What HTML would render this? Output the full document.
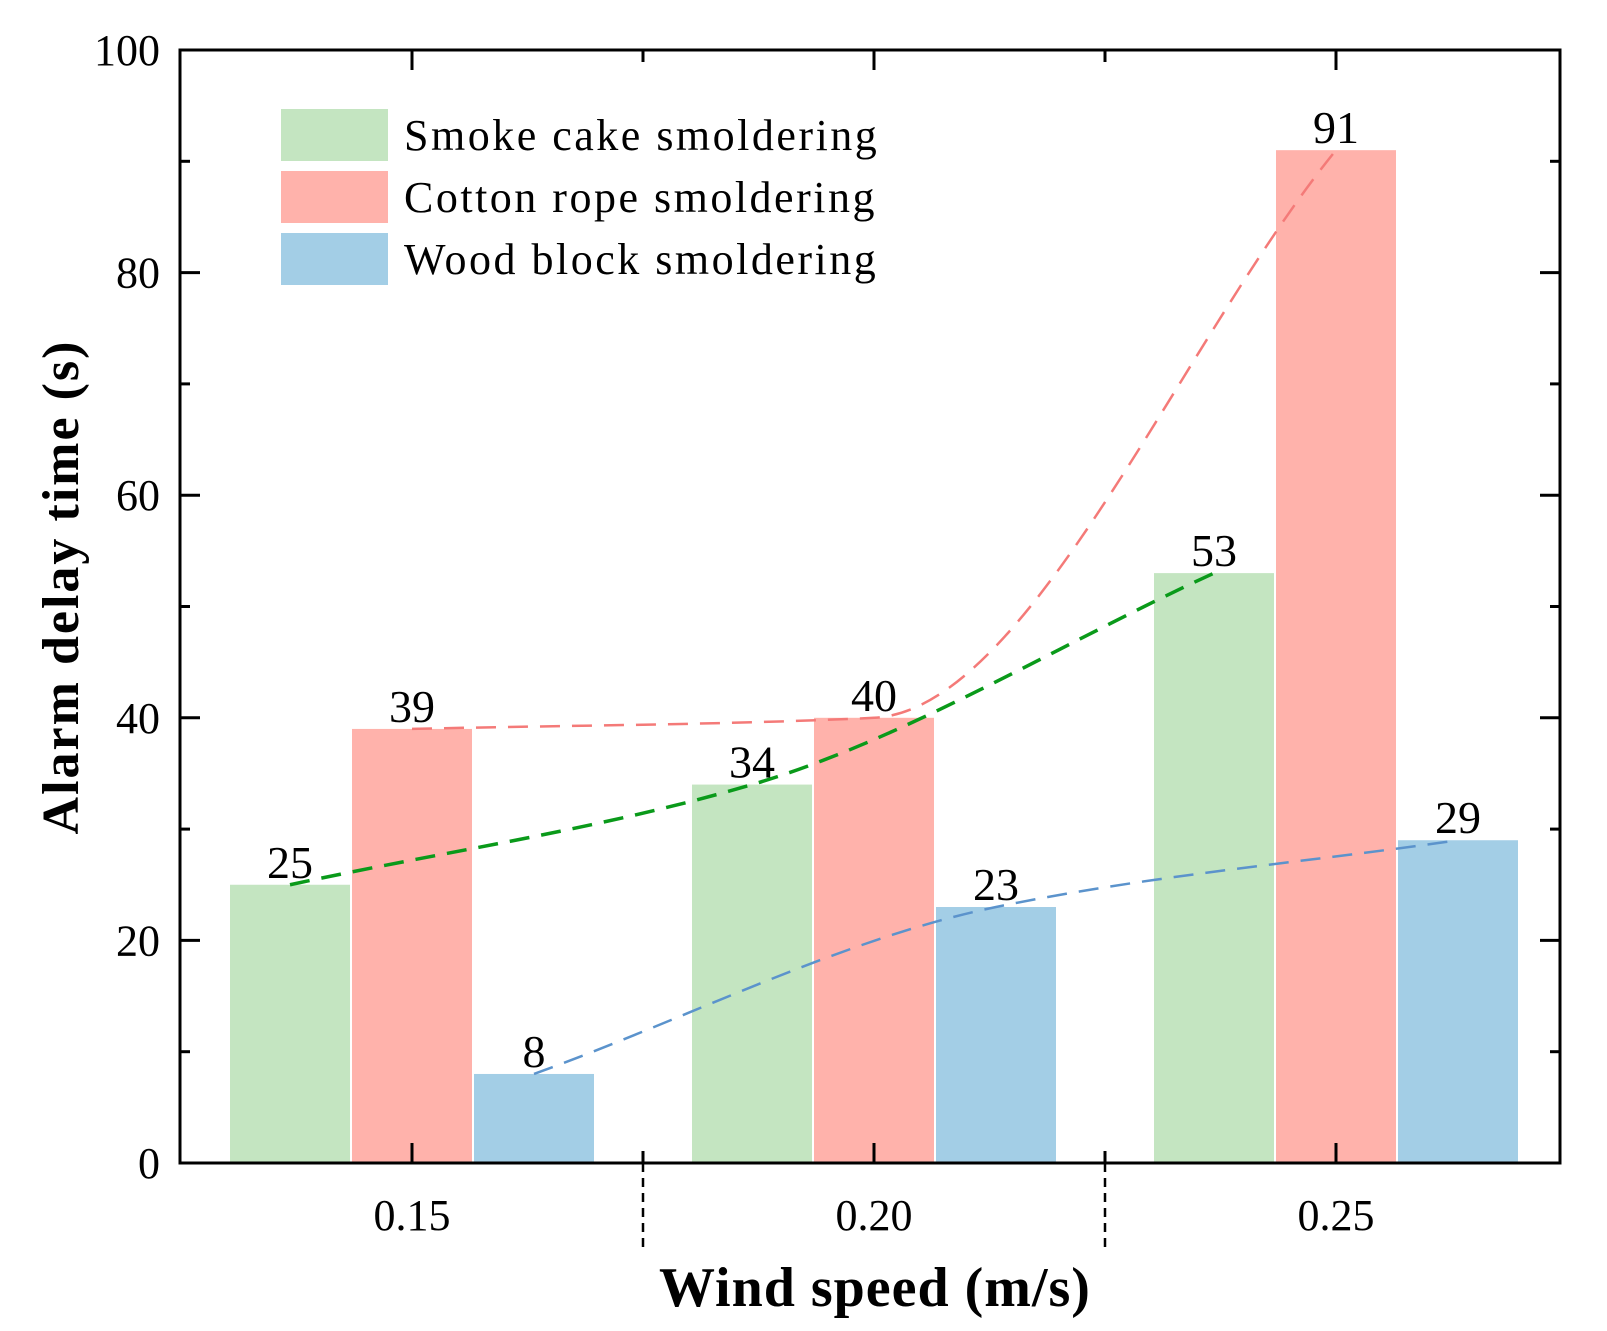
<!DOCTYPE html>
<html><head><meta charset="utf-8"><style>
html,body{margin:0;padding:0;background:#fff;}
svg{display:block;font-family:"Liberation Serif",serif;}
</style></head><body>
<svg id="chart" width="1607" height="1331" viewBox="0 0 1607 1331" xmlns="http://www.w3.org/2000/svg">
<g id="bars"></g>
<g id="trends"></g>
<g id="labels"></g>
<g id="axes"></g>
<g id="legend"></g>
<text x="875" y="1306" font-size="56" font-weight="bold" text-anchor="middle" letter-spacing="1">Wind speed (m/s)</text>
<text transform="translate(78,587) rotate(-90)" font-size="52" font-weight="bold" text-anchor="middle" letter-spacing="2">Alarm delay time (s)</text>
</svg>
<script>
const categories = ["0.15","0.20","0.25"];
const seriesNames = ["Smoke cake smoldering","Cotton rope smoldering","Wood block smoldering"];
const smokeCake = [25,34,53];
const cottonRope = [39,40,91];
const woodBlock = [8,23,29];
const yTicks = [0,20,40,60,80,100];

const series = [smokeCake, cottonRope, woodBlock];
const fills = ["#c4e5c1","#ffb2ab","#a3cee6"];
const lineColors = ["#0a9a1a","#f47a78","#5b93cc"];
const lineWidths = [3.5,2.5,2.5];
const L=180,R=1560,T=50,B=1163;
const NS="http://www.w3.org/2000/svg";
function y(v){return B-(v/100)*(B-T);}
function xc(i){return 412+i*462;}
const barW=120, barStep=122;
function bx(i,s){return xc(i)+(s-1)*barStep-barW/2;}
function mk(tag,attrs,parent){const e=document.createElementNS(NS,tag);for(const k in attrs)e.setAttribute(k,attrs[k]);parent.appendChild(e);return e;}
const gB=document.getElementById('bars'),gT=document.getElementById('trends'),gL=document.getElementById('labels'),gA=document.getElementById('axes'),gLeg=document.getElementById('legend');
function monotonePath(p){
  const n=p.length,dx=[],sl=[],m=[];
  for(let k=0;k<n-1;k++){dx[k]=p[k+1][0]-p[k][0];sl[k]=(p[k+1][1]-p[k][1])/dx[k];}
  m[0]=sl[0];m[n-1]=sl[n-2];
  for(let k=1;k<n-1;k++){m[k]=(sl[k-1]*sl[k]<=0)?0:2/(1/sl[k-1]+1/sl[k]);}
  let d='M'+p[0][0]+','+p[0][1];
  for(let k=0;k<n-1;k++){
    const h=dx[k]/3;
    d+=' C'+(p[k][0]+h)+','+(p[k][1]+m[k]*h)+' '+(p[k+1][0]-h)+','+(p[k+1][1]-m[k+1]*h)+' '+p[k+1][0]+','+p[k+1][1];
  }
  return d;
}
series.forEach((arr,s)=>{
  arr.forEach((v,i)=>{
    const r=mk('rect',{x:bx(i,s),y:y(v),width:barW,height:B-y(v),fill:fills[s]},gB);
    
    
    const t=mk('text',{x:bx(i,s)+barW/2,y:y(v)-7,'font-size':46,'text-anchor':'middle'},gL);
    t.textContent=v;
    
    
  });
  const p=arr.map((v,i)=>[bx(i,s)+barW/2,y(v)]);
  const path=mk('path',{d:monotonePath(p),fill:'none',stroke:lineColors[s],'stroke-width':lineWidths[s],'stroke-dasharray':'20,12'},gT);
  
  
});
const fr=mk('rect',{x:L,y:T,width:R-L,height:B-T,fill:'none',stroke:'#000','stroke-width':3},gA);


for(let v=0;v<=100;v+=10){
  const len=(v%20===0)?20:10;
  mk('line',{x1:L,x2:L+len,y1:y(v),y2:y(v),stroke:'#000','stroke-width':3},gA);
  mk('line',{x1:R,x2:R-len,y1:y(v),y2:y(v),stroke:'#000','stroke-width':3},gA);
}
yTicks.forEach(v=>{
  const t=mk('text',{x:L-20,y:y(v)+15,'font-size':44,'text-anchor':'end'},gA);
  t.textContent=v;
  
  
});
categories.forEach((c,i)=>{
  mk('line',{x1:xc(i),x2:xc(i),y1:B,y2:B-20,stroke:'#000','stroke-width':3},gA);
  mk('line',{x1:xc(i),x2:xc(i),y1:T,y2:T+20,stroke:'#000','stroke-width':3},gA);
  const t=mk('text',{x:xc(i),y:1230,'font-size':44,'text-anchor':'middle'},gA);
  t.textContent=c;
  
  
  if(i<categories.length-1){
    const sx=xc(i)+231;
    mk('line',{x1:sx,x2:sx,y1:T,y2:T+12,stroke:'#000','stroke-width':3},gA);
    mk('line',{x1:sx,x2:sx,y1:B-12,y2:B,stroke:'#000','stroke-width':3},gA);
    const sl=mk('line',{x1:sx,x2:sx,y1:B,y2:1250,stroke:'#000','stroke-width':2.5,'stroke-dasharray':'9,6'},gA);
    
    
  }
});
seriesNames.forEach((n,s)=>{
  const yy=109+s*62;
  const r=mk('rect',{x:281,y:yy,width:107,height:52,fill:fills[s]},gLeg);
  
  
  const t=mk('text',{x:404,y:yy+41,'font-size':44,'letter-spacing':2.5},gLeg);
  t.textContent=n;
  
  
});
</script>
</body></html>
